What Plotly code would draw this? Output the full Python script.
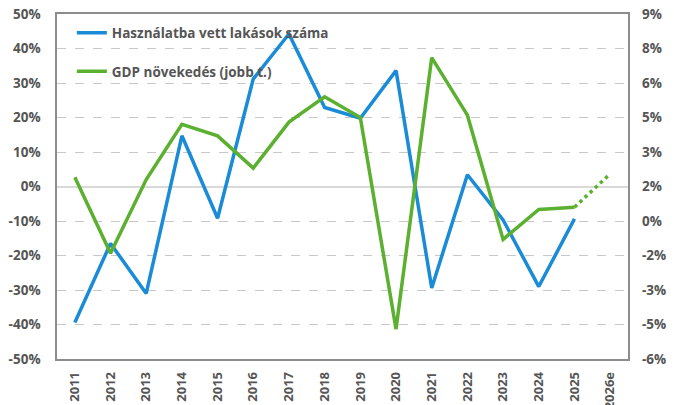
import plotly.graph_objects as go

years = ["2011", "2012", "2013", "2014", "2015", "2016", "2017", "2018",
         "2019", "2020", "2021", "2022", "2023", "2024", "2025", "2026e"]
dwellings = [-39.4, -16.5, -31.0, 14.7, -9.2, 31.2, 44.2, 22.9,
             19.8, 33.6, -29.4, 3.4, -9.7, -29.0, -9.4, None]
gdp = [1.9, -1.4, 1.8, 4.2, 3.7, 2.3, 4.3, 5.4,
       4.5, -4.7, 7.1, 4.6, -0.8, 0.5, 0.6, None]
gdp_forecast_years = ["2025", "2026e"]
gdp_forecast = [0.6, 2.05]

left_ticks = [-50, -40, -30, -20, -10, 0, 10, 20, 30, 40, 50]
left_text = ["-50%", "-40%", "-30%", "-20%", "-10%", "0%", "10%", "20%", "30%", "40%", "50%"]
right_ticks = [-6, -4.5, -3, -1.5, 0, 1.5, 3, 4.5, 6, 7.5, 9]
right_text = ["-6%", "-5%", "-3%", "-2%", "0%", "2%", "3%", "5%", "6%", "8%", "9%"]

BLUE = "#1a8bd6"
GREEN = "#5bb030"
TXT = "#555555"
FONT = "Open Sans"
TF = dict(family=FONT, size=13.5, color=TXT, weight=700)
XTF = dict(family=FONT, size=13, color=TXT, weight=700)

fig = go.Figure()
fig.add_trace(go.Scatter(x=years, y=dwellings, mode="lines",
                         name="Használatba vett lakások száma",
                         line=dict(color=BLUE, width=3.5), legendgroup="a"))
fig.add_trace(go.Scatter(x=years, y=gdp, mode="lines", yaxis="y2",
                         name="GDP növekedés (jobb t.)",
                         line=dict(color=GREEN, width=3.5), legendgroup="b"))
fig.add_trace(go.Scatter(x=gdp_forecast_years, y=gdp_forecast, mode="lines", yaxis="y2",
                         showlegend=False,
                         line=dict(color=GREEN, width=3.5, dash="dot")))

fig.update_layout(
    width=674, height=405,
    margin=dict(l=57, r=46, t=14, b=46, autoexpand=False),
    paper_bgcolor="white", plot_bgcolor="white",
    font=TF,
    showlegend=True,
    legend=dict(x=0.026, y=0.99, xanchor="left", yanchor="top",
                bgcolor="rgba(0,0,0,0)", tracegroupgap=18,
                font=TF, itemwidth=30),
    xaxis=dict(type="category", categoryorder="array", categoryarray=years,
               range=[-0.5, len(years) - 0.5], automargin=False,
               tickangle=-90, showgrid=False, showline=True, linecolor="#8c8c8c",
               linewidth=1.5, mirror=True, ticks="", zeroline=False,
               ticklabelstandoff=6, tickfont=XTF),
    yaxis=dict(range=[-50, 50], tickvals=left_ticks, ticktext=left_text,
               automargin=False, ticklabeloverflow="allow",
               showgrid=True, gridcolor="#c8c8c8", griddash="dash", gridwidth=1,
               zeroline=True, zerolinecolor="#d9d9d9", zerolinewidth=1.5,
               showline=True, linecolor="#8c8c8c", linewidth=1.5, mirror=True,
               ticks="", ticklabelstandoff=12, tickfont=TF),
    yaxis2=dict(range=[-6, 9], tickvals=right_ticks, ticktext=right_text,
                automargin=False, ticklabeloverflow="allow",
                overlaying="y", side="right", showgrid=False, zeroline=False,
                showline=False, ticks="", ticklabelstandoff=13, tickfont=TF),
)

fig.write_html("out.html", config={"displayModeBar": False},
               post_script="document.body.style.margin='0px';")
